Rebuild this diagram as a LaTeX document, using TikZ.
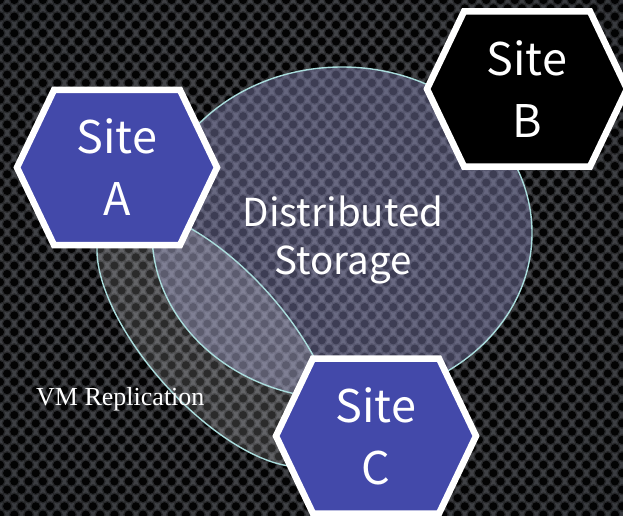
\documentclass[tikz,border=0pt]{standalone}
\usepackage{fontspec}
\newfontfamily\jfont{Noto Sans CJK JP}
\newfontfamily\tfont{Liberation Serif}
\definecolor{hexblue}{RGB}{67,73,170}
\definecolor{rimcol}{RGB}{170,220,220}
\definecolor{bgmid}{RGB}{80,80,84}
\definecolor{bgedge}{RGB}{60,62,66}
\definecolor{bgdark}{RGB}{26,30,40}
\definecolor{lavender}{RGB}{150,150,205}
\pgfdeclareradialshading{vign}{\pgfpoint{0bp}{0bp}}{color(0bp)=(bgmid); color(30bp)=(bgedge); color(71bp)=(bgdark)}
\tikzset{
  hexrim/.style={draw=white, line width=6.5pt, line join=miter},
  sitetext/.style={text=white, font=\jfont\fontsize{45}{62}\selectfont, align=center, inner sep=0pt},
  storetext/.style={text=white, font=\jfont\fontsize{38.5}{48}\selectfont, align=center, inner sep=0pt},
  reptext/.style={text=white, font=\tfont\fontsize{26}{30}\selectfont, inner sep=0pt},
  ringline/.style={draw=rimcol, line width=1.4pt},
  holeouter/.style={fill=black, opacity=0.35},
  holeinner/.style={fill=black, opacity=0.92}
}
\newcommand\hexat[2]{%
  \path[hexrim, fill=#2] ([shift={(-100,0)}]#1) -- ++(37,-77.5) -- ++(126,0) -- ++(37,77.5) -- ++(-37,77.5) -- ++(-126,0) -- cycle;}
\begin{document}
\begin{tikzpicture}[x=1pt,y=-1pt]
\useasboundingbox (0,0) rectangle (623,516);
\begin{scope}
  \clip (0,0) rectangle (623,516);
  \shade[shading=vign] (0,0) rectangle (623,516);
  \foreach \r in {0,...,63}{
    \foreach \c in {0,...,44}{
      \pgfmathsetmacro\xx{\c*14.3+mod(\r,2)*7.15}
      \pgfmathsetmacro\yy{\r*8.3}
      \fill[holeouter] (\xx,\yy) circle (5.6pt);
      \fill[holeinner] (\xx,\yy) circle (4.1pt);
    }
  }
\end{scope}
% ellipses
\coordinate (bigc) at (342,233);
\coordinate (smallc) at (216.3,338.4);
\path[fill=lavender, fill opacity=0.4] (bigc) ellipse [x radius=190, y radius=166];
\path[fill=white, fill opacity=0.16, shift={(smallc)}, rotate=-48] (0,0) ellipse [x radius=161, y radius=69];
\draw[ringline] (bigc) ellipse [x radius=190, y radius=166];
\draw[ringline, shift={(smallc)}, rotate=-48] (0,0) ellipse [x radius=161, y radius=69];
% texts
\node[storetext] (store) at (343,240) {Distributed\\Storage};
\node[reptext, anchor=base west] (rep) at (36,405) {VM Replication};
% sites
\coordinate (cA) at (117,167.5);
\coordinate (cB) at (527,89);
\coordinate (cC) at (376,436);
\hexat{cA}{hexblue}
\hexat{cB}{black}
\hexat{cC}{hexblue}
\node[sitetext] (siteA) at (cA) {Site\\A};
\node[sitetext] (siteB) at (cB) {Site\\B};
\node[sitetext] (siteC) at (cC) {Site\\C};
\end{tikzpicture}
\end{document}
